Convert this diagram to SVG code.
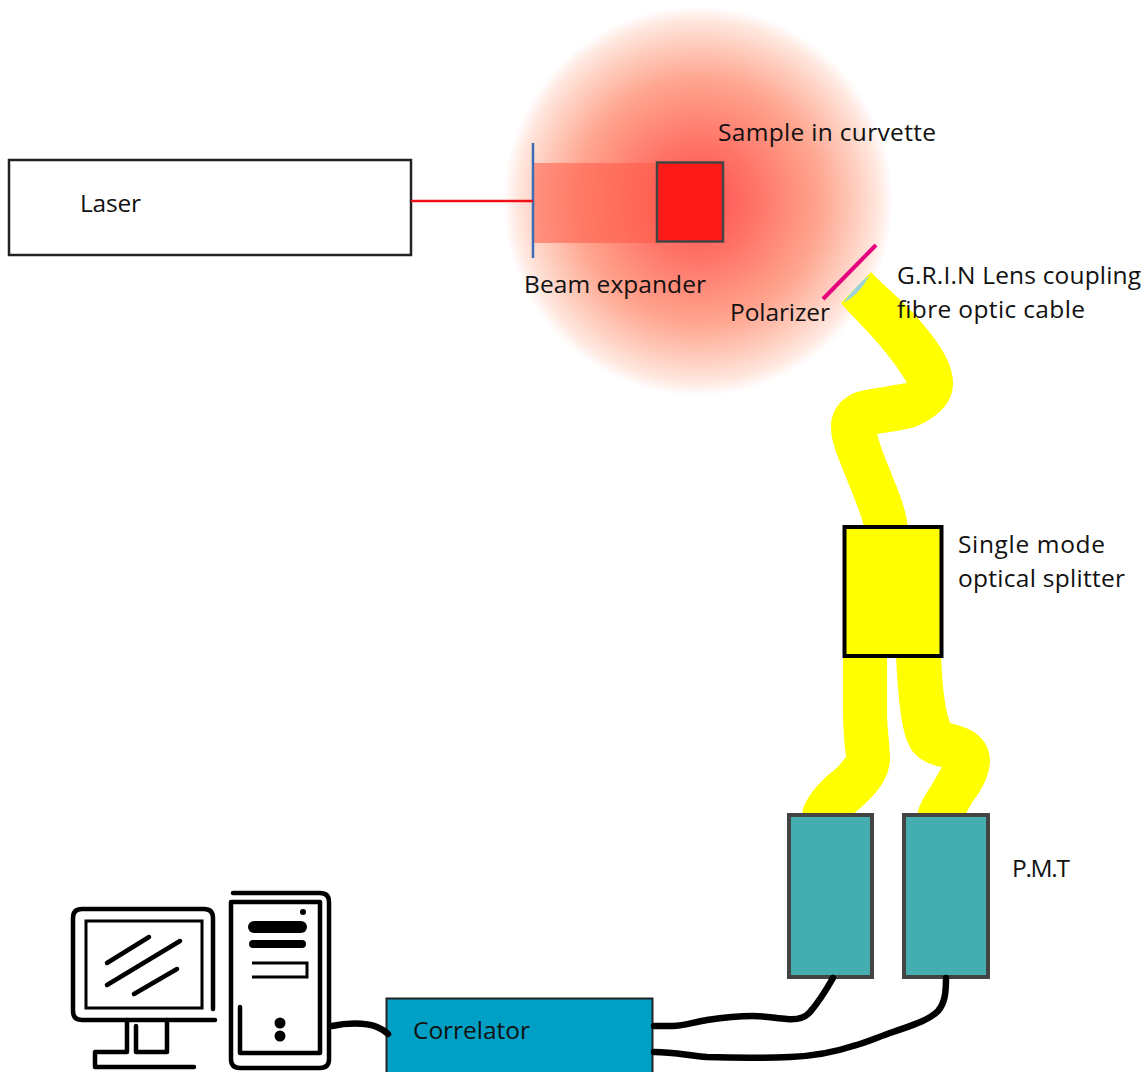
<svg xmlns="http://www.w3.org/2000/svg" width="1144" height="1072" viewBox="0 0 1144 1072">
<style>
text{font-family:"Open Sans","Noto Sans",sans-serif;font-size:24.5px;fill:#111}
.fibre{fill:#ffff00}
.pmt{fill:#43adb0;stroke:#444;stroke-width:4}
.cable{fill:none;stroke:#000;stroke-width:6.500;stroke-linecap:round;stroke-linejoin:round}
.pc{fill:none;stroke:#000;stroke-width:4.500;stroke-linecap:round;stroke-linejoin:round}
</style>
<defs>
<radialGradient id="glow"><stop offset="0" stop-color="#ff4f52"/><stop offset=".3" stop-color="#ff7468"/><stop offset=".62" stop-color="#ffa48e"/><stop offset=".82" stop-color="#ffcfc0"/><stop offset=".93" stop-color="#ffe8e0"/><stop offset="1" stop-color="#fff"/></radialGradient>
</defs>
<rect width="1144" height="1072" fill="#fff"/>
<g id="glow-field"><circle cx="698" cy="201" r="195" fill="url(#glow)"/></g>
<g id="laser"><rect x="9" y="160" width="402" height="95" fill="#fff" stroke="#222" stroke-width="2.500"/><text x="80" y="212" textLength="61">Laser</text></g>
<g id="beam-expander">
<rect x="533" y="163" width="124" height="80" fill="#ff5a45" fill-opacity=".55"/>
<line x1="533" y1="143" x2="533" y2="258" stroke="#3a6db5" stroke-width="2.500"/>
<text x="524" y="293" textLength="182">Beam expander</text></g>
<g id="sample"><rect x="657" y="162.500" width="66" height="79" fill="#ff1a1a" stroke="#444" stroke-width="2.500"/><text x="718" y="141" textLength="218">Sample in curvette</text></g>
<g id="polarizer"><line x1="823" y1="299" x2="876" y2="245" stroke="#e6007e" stroke-width="4"/><text x="730" y="321" textLength="100">Polarizer</text></g>
<g id="fibre-upper">
<path class="fibre" d="M841 303L871 272C885 287 900 298 915 315C935 338 953 360 953 383C953 402 940 416 915 427C900 431 888 432 877 434C881 448 885 458 890 470C897 488 905 505 908 527L864 527C860 510 850 488 843 470C836 452 831 440 831 427C831 410 842 397 857 392C875 388 890 386 907 383C895 362 880 345 865 329C857 320 848 312 841 303Z"/>
<path d="M843 303Q858 283 870 275Q858 296 843 303Z" fill="#9cd3dc"/>
<text x="897" y="284" textLength="244">G.R.I.N Lens coupling</text><text x="897" y="318" textLength="188">fibre optic cable</text></g>
<g id="fibre-lower">
<path class="fibre" d="M843 656L887 656L887 717C888 735 890 748 890 760C889 772 885 780 880 787C872 798 863 806 852 815L802 815C803 803 812 790 827 776C835 770 841 764 846 757C844 740 843 725 843 713Z"/>
<path class="fibre" d="M896 656L941 656C942 675 943 690 945 702C946 710 948 717 950 723C963 726 973 730 980 737C987 744 990 752 990 762C989 776 982 790 973 801L965 815L917 815C919 805 925 795 931 786L942 767C930 765 920 760 914 753C907 745 903 730 901 715C898 695 897 675 896 656Z"/>
</g>
<g id="splitter"><rect x="844.500" y="527" width="97" height="129" fill="#ffff00" stroke="#000" stroke-width="4"/><text x="958" y="553" textLength="147">Single mode</text><text x="958" y="587" textLength="167">optical splitter</text></g>
<g id="pmt-1"><rect class="pmt" x="789" y="815" width="83" height="162"/></g>
<g id="pmt-2"><rect class="pmt" x="904" y="815" width="84" height="162"/><text x="1012" y="877" textLength="58">P.M.T</text></g>
<g id="correlator"><rect x="386.500" y="998.500" width="266" height="80" fill="#00a0c6" stroke="#222" stroke-width="2"/><text x="413" y="1039" textLength="117">Correlator</text></g>
<g id="monitor">
<path class="pc" d="M213 1009V918Q213 909 204 909H82Q73 909 73 918V1011Q73 1020 82 1020H215"/>
<rect x="86" y="921" width="116" height="87" fill="none" stroke="#000" stroke-width="3"/>
<path class="pc" d="M107 963L149 937M107 985L180 941M134 994L177 969"/>
<path class="pc" d="M127 1020V1052H95V1067H194M136 1026V1052H167V1020"/>
</g>
<g id="computer">
<path class="pc" d="M233 893H320Q329 893 329 902V1059Q329 1068 320 1068H240Q231 1068 231 1059V902H320V1053H240V1007"/>
<circle cx="303" cy="912" r="3"/>
<path d="M254 927H301" fill="none" stroke="#000" stroke-linecap="round" stroke-width="12"/>
<path d="M253 944H302" fill="none" stroke="#000" stroke-linecap="round" stroke-width="8"/>
<path d="M252 963H307V977H252" fill="none" stroke="#000" stroke-width="3"/>
<circle cx="280" cy="1023" r="5.500"/><circle cx="280" cy="1036" r="5.500"/>
</g>
<g id="connectors">
<line x1="411" y1="201" x2="533" y2="201" stroke="#f01018" stroke-width="2.500"/>
<path class="cable" d="M332 1026C345 1023 365 1022 377 1027Q384 1030 388 1034"/>
<path class="cable" d="M833 978C825 992 817 1004 810 1012C805 1018 798 1020 787 1019C775 1018 765 1016 753 1016C735 1016 720 1018 707 1020C695 1022 683 1026 673 1026L654 1026"/>
<path class="cable" d="M946 978C946 992 945 1003 938 1011C928 1021 910 1026 893 1032C878 1037 866 1043 853 1046C835 1052 815 1056 790 1057C765 1058 735 1058 707 1057C690 1056 675 1052 654 1052"/>
</g>
</svg>
